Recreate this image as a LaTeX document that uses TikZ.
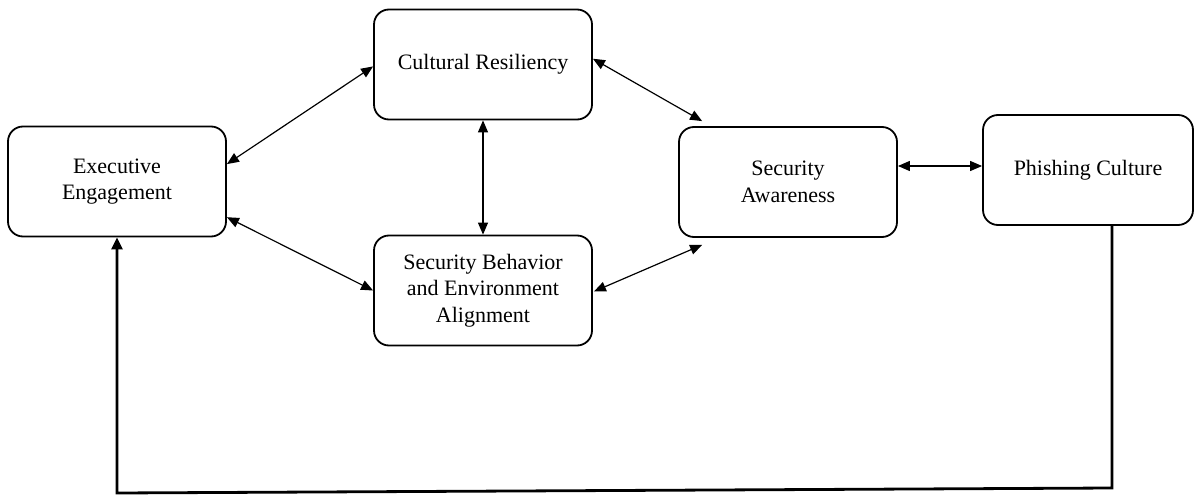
\documentclass[tikz,border=0pt]{standalone}
\usepackage{fontspec}
\setmainfont{Liberation Serif}
\usetikzlibrary{arrows.meta,calc}
\begin{document}
\begin{tikzpicture}[x=1pt,y=-1pt,
  box/.style={draw, line width=1.8pt, rounded corners=15pt, align=center,
    inner sep=0pt, minimum width=218pt, minimum height=110pt,
    font=\fontsize{22}{26.5}\selectfont},
  link/.style={{Triangle[length=12pt,width=10pt]}-{Triangle[length=12pt,width=10pt]}, line width=1.2pt},
  feedback/.style={-{Triangle[length=12pt,width=11pt]}, line width=2.8pt}]
\useasboundingbox (0,0) rectangle (1194,495);

% concept boxes
\node[box] (exec)  at (117,181.5) {Executive\\Engagement};
\node[box] (cult)  at (483,64.5)  {Cultural Resiliency};
\node[box] (beh)   at (483,290.5) {Security Behavior\\and Environment\\Alignment};
\node[box] (aware) at (788,182)   {Security\\Awareness};
\node[box, minimum width=210pt] (phish) at (1088,170) {Phishing Culture};

% two-way relations
\draw[link] (exec.9.5) -- (cult.181);
\draw[link] (exec.-18) -- (beh.west);
\draw[link] (cult.south) -- (beh.north);
\draw[link] (cult.3.9) -- ($(aware.north west)+(24,-5)$);
\draw[link] ($(beh.east)+(1,1)$) -- ($(aware.south west)+(24,7)$);
\draw[link] ($(aware.east)+(0,-16)$) -- ($(aware.east -| phish.west)+(0,-16)$);

% feedback loop back to the executive level
\coordinate (fbA) at (1112,488);
\coordinate (fbB) at (117,493);
\draw[feedback, line join=miter] ($(phish.south)+(24,0)$) -- (fbA) -- (fbB) -- (exec.south);
\end{tikzpicture}
\end{document}
